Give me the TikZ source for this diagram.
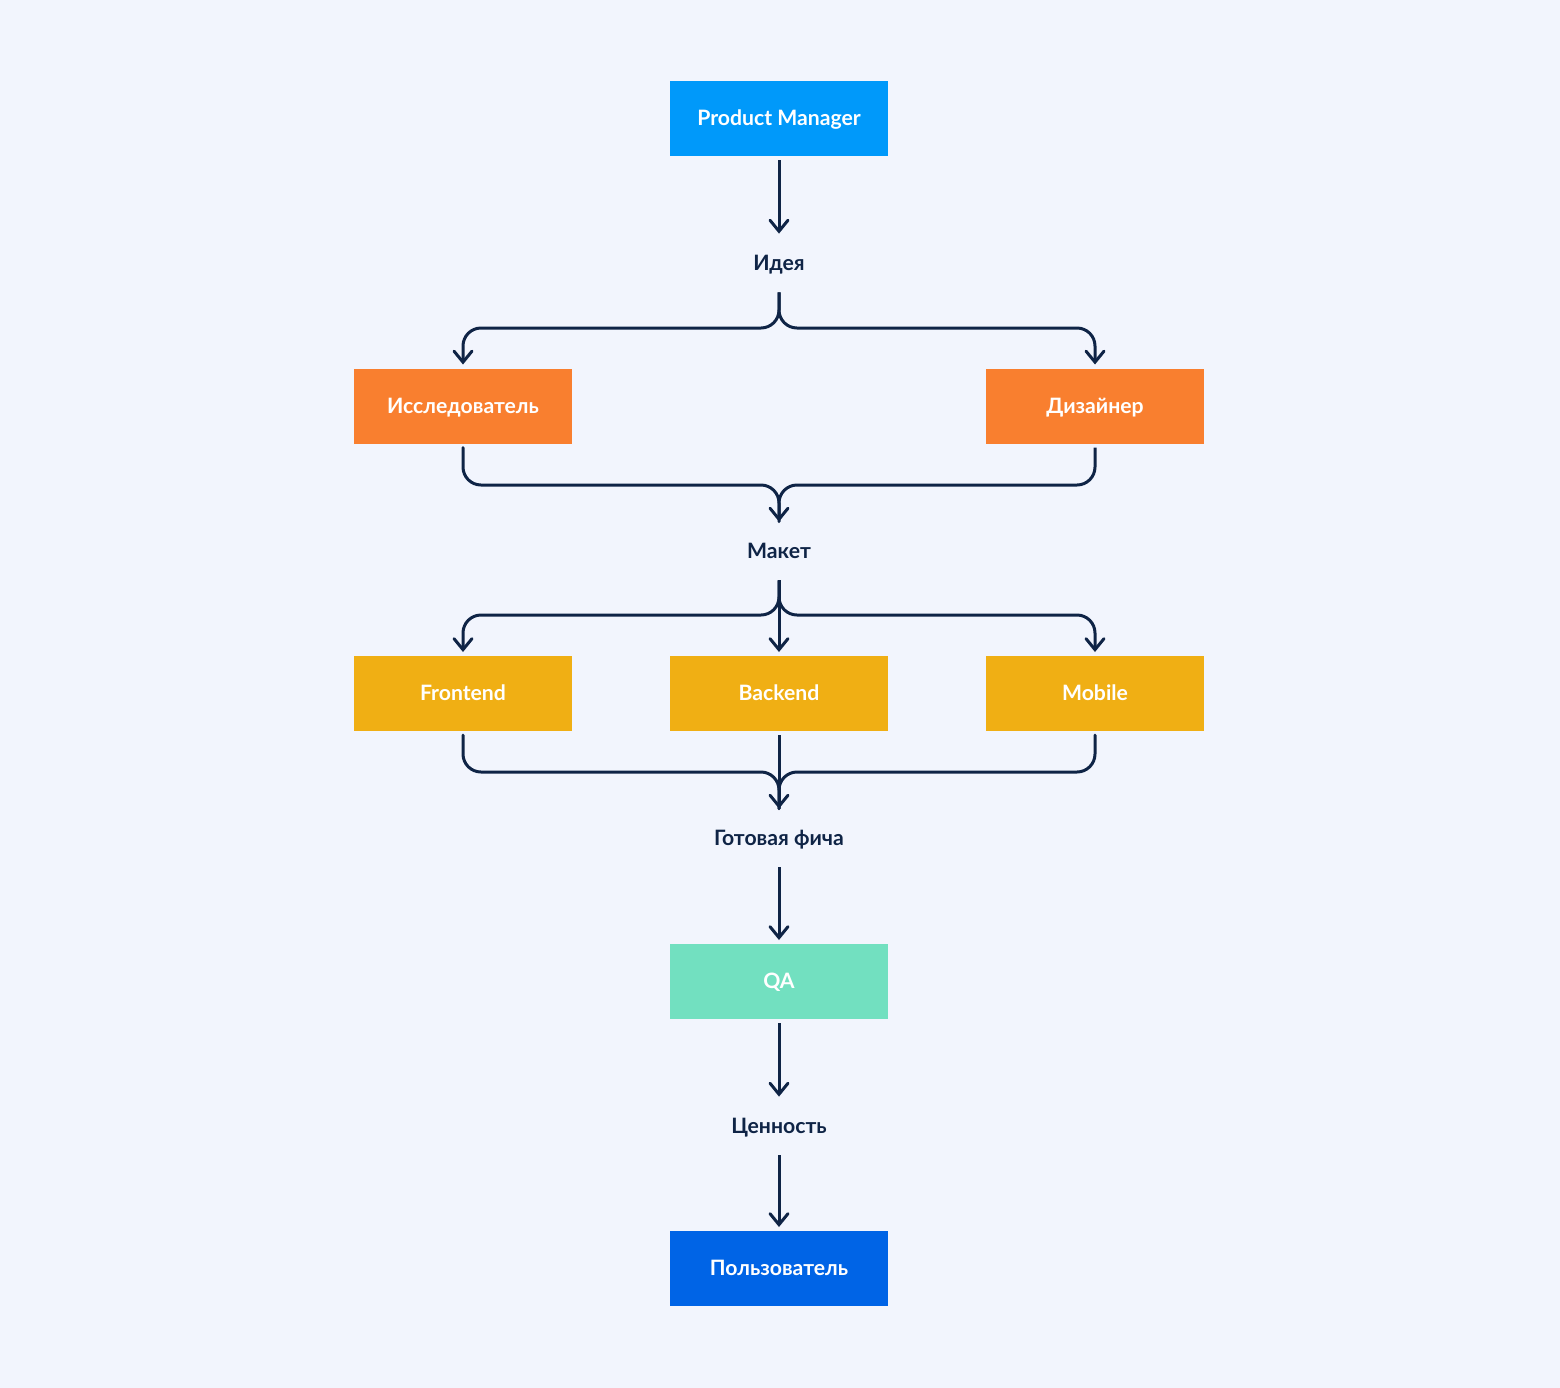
\documentclass[tikz,border=0pt]{standalone}
\usepackage{fontspec}
\setmainfont{Lato}
\usetikzlibrary{arrows.meta}
\definecolor{bgcol}{HTML}{F2F5FD}
\definecolor{linecol}{HTML}{0F2446}
\definecolor{pmblue}{HTML}{0099FA}
\definecolor{roleorange}{HTML}{F97F2F}
\definecolor{devyellow}{HTML}{F0AF14}
\definecolor{qagreen}{HTML}{72E0C0}
\definecolor{userblue}{HTML}{0064E6}

\begin{document}
\begin{tikzpicture}[x=0.5pt,y=-0.5pt,
  box/.style={minimum width=109pt,minimum height=37.5pt,inner sep=0pt,outer sep=2pt,
    text height=7.4pt,text depth=0pt,
    text=white,font=\fontsize{10.6}{12}\selectfont\bfseries},
  lbl/.style={minimum height=29pt,inner sep=0pt,text height=7.4pt,text depth=0pt,
    text=linecol,font=\fontsize{10.6}{12}\selectfont\bfseries},
  arr/.style={draw=linecol,line width=1.5pt,rounded corners=9pt,
    -{Straight Barb[length=5.5pt,width=9pt,line cap=round]}},
  ln/.style={draw=linecol,line width=1.5pt,rounded corners=9pt,line cap=round}]
\fill[bgcol] (0,0) rectangle (1560,1388);
% boxes and labels
\node[box,fill=pmblue] (pm) at (779,118.5) {Product Manager};
\node[lbl] (idea) at (779,263) {Идея};
\node[box,fill=roleorange] (res) at (463,406) {Исследователь};
\node[box,fill=roleorange] (des) at (1095,406) {Дизайнер};
\node[lbl] (mock) at (779,551) {Макет};
\node[box,fill=devyellow] (front) at (463,693.5) {Frontend};
\node[box,fill=devyellow] (back) at (779,693.5) {Backend};
\node[box,fill=devyellow] (mob) at (1095,693.5) {Mobile};
\node[lbl] (feat) at (779,838) {Готовая фича};
\node[box,fill=qagreen] (qa) at (779,981.5) {QA};
\node[lbl] (val) at (779,1126) {Ценность};
\node[box,fill=userblue] (user) at (779,1268.5) {Пользователь};
% junctions
\coordinate (split1) at (779,328);
\coordinate (join1) at (779,485);
\coordinate (split2) at (779,615);
\coordinate (join2) at (779,772);
% connectors
\draw[arr] (pm) -- (idea);
\draw[arr] (idea.south) -- (split1) -| (res.north);
\draw[arr] (idea.south) -- (split1) -| (des.north);
\draw[ln] (res.south) |- (join1) -- (mock.north);
\draw[arr] (des.south) |- (join1) -- (mock.north);
\draw[arr] (mock.south) -- (split2) -| (front.north);
\draw[arr] (mock.south) -- (back.north);
\draw[arr] (mock.south) -- (split2) -| (mob.north);
\draw[ln] (front.south) |- (join2) -- (feat.north);
\draw[ln] (mob.south) |- (join2) -- (feat.north);
\draw[arr] (back.south) -- (feat.north);
\draw[arr] (feat) -- (qa);
\draw[arr] (qa) -- (val);
\draw[arr] (val) -- (user);
\end{tikzpicture}
\end{document}
